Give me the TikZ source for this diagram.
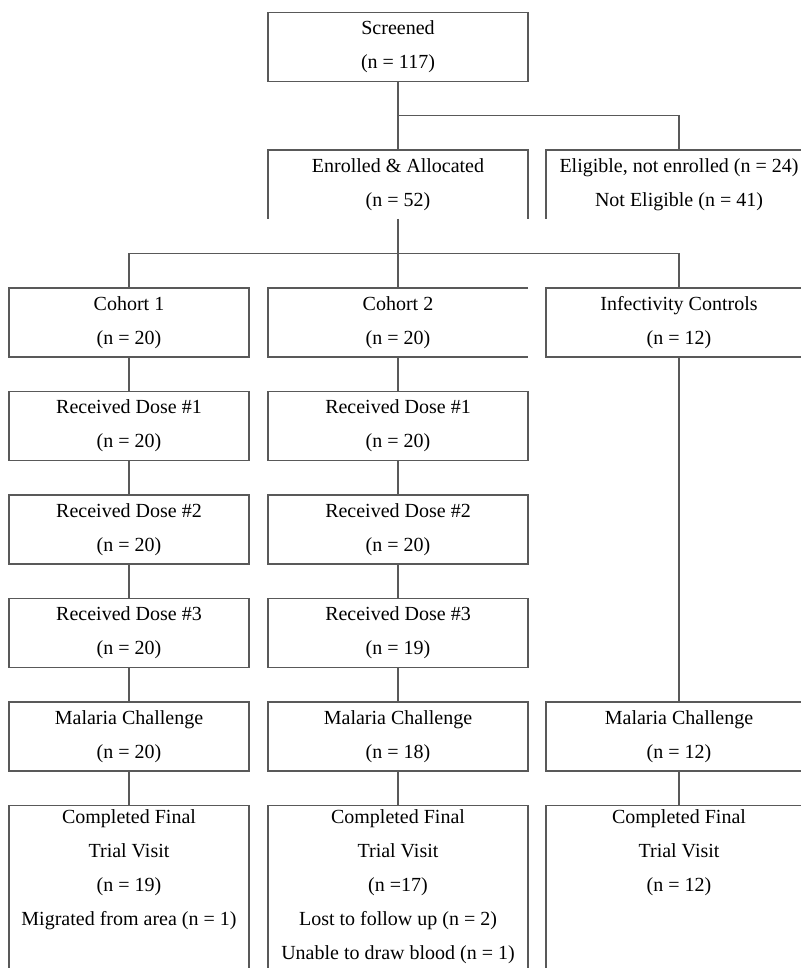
\documentclass[tikz,border=0pt]{standalone}
\usepackage{fontspec}
\setmainfont{Liberation Serif}
\usetikzlibrary{positioning, calc}

\begin{document}
\begin{tikzpicture}[x=0.5pt, y=-0.5pt,
        every node/.style = {font=\fontsize{10}{17}\selectfont, align=center, inner sep=0pt, outer sep=0pt},
        box/.style = {draw=black!65, line width=0.6pt, minimum height=34.5pt, minimum width=#1},
        box/.default = 130pt,
        open/.style = {minimum height=34.5pt, minimum width=#1},
        open/.default = 130pt,
        final/.style = {inner ysep=2.2pt, minimum width=#1},
        final/.default = 130pt,
        line/.style = {draw=black!65, line width=0.6pt},
        node distance=17.25pt
    ]
        \useasboundingbox (0,0) rectangle (801,968);
        \clip (0,0) rectangle (801,968);

        \node[box] (scr) at (398,47) {Screened\\(n = 117)};
        \node[open] (enr) at (398,184.5) {Enrolled \& Allocated\\(n = 52)};
        \node[open=133pt] (elig) at (679,184.5) {Eligible, not enrolled (n = 24)\\Not Eligible (n = 41)};

        \node[box=120pt] (c1) at (129,322.5) {Cohort 1\\(n = 20)};
        \node[open] (c2) at (398,322.5) {Cohort 2\\(n = 20)};
        \node[box=133pt] (ic) at (679,322.5) {Infectivity Controls\\(n = 12)};

        \node[box=120pt, below=of c1] (d1a) {Received Dose \#1\\(n = 20)};
        \node[box=120pt, below=of d1a] (d2a) {Received Dose \#2\\(n = 20)};
        \node[box=120pt, below=of d2a] (d3a) {Received Dose \#3\\(n = 20)};
        \node[box=120pt, below=of d3a] (mc1) {Malaria Challenge\\(n = 20)};
        \node[final=120pt, below=of mc1] (f1) {Completed Final\\Trial Visit\\(n = 19)\\Migrated from area (n = 1)};

        \node[box, below=of c2] (d1b) {Received Dose \#1\\(n = 20)};
        \node[box, below=of d1b] (d2b) {Received Dose \#2\\(n = 20)};
        \node[box, below=of d2b] (d3b) {Received Dose \#3\\(n = 19)};
        \node[box, below=of d3b] (mc2) {Malaria Challenge\\(n = 18)};
        \node[final, below=of mc2] (f2) {Completed Final\\Trial Visit\\(n =17)\\Lost to follow up (n = 2)\\Unable to draw blood (n = 1)};

        \node[box=133pt] (mc3) at (679,736.5) {Malaria Challenge\\(n = 12)};
        \node[final=133pt, below=of mc3] (f3) {Completed Final\\Trial Visit\\(n = 12)};

        % boxes without a bottom (or right) side
        \draw[line] (enr.south west) -- (enr.north west) -- (enr.north east) -- (enr.south east);
        \draw[line] (elig.south west) -- (elig.north west) -- (elig.north east) -- (elig.south east);
        \draw[line] (c2.north east) -- (c2.north west) -- (c2.south west) -- (c2.south east);
        \foreach \f in {f1, f2, f3}
            \draw[line] ([yshift=-90pt]\f.north west) -- (\f.north west) -- (\f.north east) -- ([yshift=-90pt]\f.north east);

        \coordinate (s1) at ($(scr.south)!0.5!(enr.north)$);
        \coordinate (s2) at ($(enr.south)!0.5!(c2.north)$);

        \draw[line] (scr) -- (enr);
        \draw[line] (s1) -| (elig);
        \draw[line] (enr) -- (c2);
        \draw[line] (s2) -| (c1);
        \draw[line] (s2) -| (ic);

        \draw[line] (c1) -- (d1a) -- (d2a) -- (d3a) -- (mc1) -- (f1);
        \draw[line] (c2) -- (d1b) -- (d2b) -- (d3b) -- (mc2) -- (f2);
        \draw[line] (ic) -- (mc3) -- (f3);

    \end{tikzpicture}
\end{document}
